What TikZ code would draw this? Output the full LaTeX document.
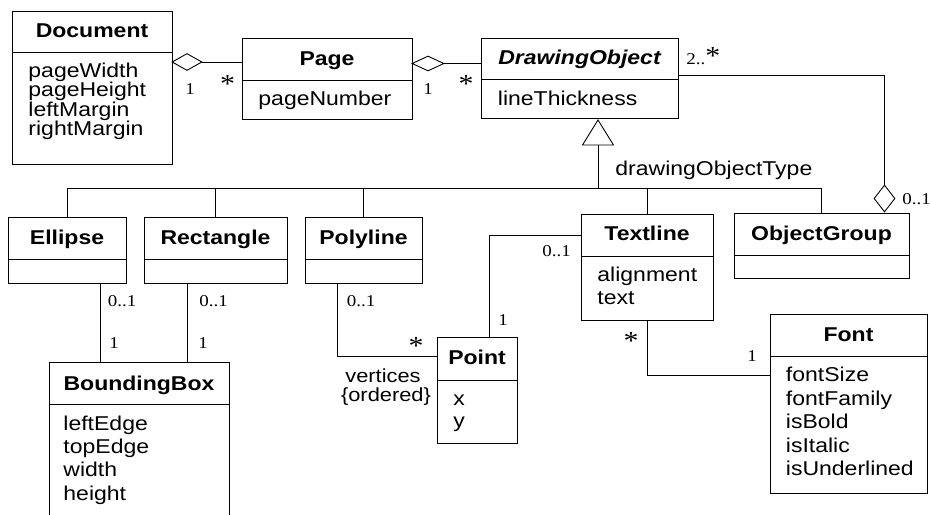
\documentclass[tikz,border=0pt]{standalone}
\usepackage{fontspec}
\setmainfont{Liberation Sans}[FakeStretch=1.15]
\newfontfamily\multfont{Liberation Serif}[FakeStretch=1.15]
\usetikzlibrary{shapes.geometric}
\newcommand\umlbox[6]{%
  \node[cls, minimum width={(#4)-(#2)}, minimum height={(#5)-(#3)}] (#1) at ({((#2)+(#4))/2},{((#3)+(#5))/2}) {};
  \draw (#2,#6) -- (#4,#6);}
\begin{document}
\begin{tikzpicture}[x=1pt,y=-1pt, line width=0.9pt,
  cls/.style={draw, rectangle, inner sep=0pt},
  ttl/.style={font=\fontsize{20}{23}\selectfont\bfseries, anchor=base, inner sep=0pt},
  attr/.style={font=\fontsize{20}{23}\selectfont, anchor=base west, inner sep=0pt},
  lbl/.style={font=\fontsize{19}{22}\selectfont, anchor=base, inner sep=0pt},
  mult/.style={font=\multfont\fontsize{16.5}{19}\selectfont, anchor=base west, inner sep=0pt},
  one/.style={font=\multfont\fontsize{16.5}{19}\selectfont, anchor=base, inner sep=0pt},
  star/.style={font=\multfont\fontsize{26}{28}\selectfont, anchor=base, inner sep=0pt},
  agg/.style={draw, shape=diamond, inner sep=0pt, fill=white},
]
\useasboundingbox (0,0) rectangle (931,514);

% class boxes
\umlbox{doc}{12}{11}{172}{164}{52}
\umlbox{page}{242}{38}{412}{119}{80}
\umlbox{dobj}{481}{38}{678}{118}{79}
\umlbox{ell}{8}{217}{126}{283}{259}
\umlbox{rect}{144}{217}{287}{283}{259}
\umlbox{poly}{305}{217}{422}{283}{259}
\umlbox{tline}{581}{214}{713}{320}{256}
\umlbox{ogrp}{734}{213}{909}{278}{255}
\umlbox{bbox}{49}{362}{229}{540}{404}
\umlbox{point}{437}{337}{517}{443}{380}
\umlbox{font}{770}{314}{927}{493}{356}

% titles
\node[ttl] (docT) at (92,37.5) {Document};
\node[ttl] (pageT) at (327,65) {Page};
\node[ttl, font=\fontsize{20}{23}\selectfont\bfseries\itshape] (dobjT) at (579.5,64.5) {DrawingObject};
\node[ttl] (ellT) at (67,244) {Ellipse};
\node[ttl] (rectT) at (215.5,244) {Rectangle};
\node[ttl] (polyT) at (363.5,244) {Polyline};
\node[ttl] (tlineT) at (647,240.5) {Textline};
\node[ttl] (ogrpT) at (821.5,240.5) {ObjectGroup};
\node[ttl] (bboxT) at (139,390) {BoundingBox};
\node[ttl] (pointT) at (477,364) {Point};
\node[ttl] (fontT) at (848.5,341.5) {Font};

% attributes
\node[attr] (a1) at (28,77) {pageWidth};
\node[attr] (a2) at (28,96.5) {pageHeight};
\node[attr] (a3) at (28,116) {leftMargin};
\node[attr] (a4) at (28,135.5) {rightMargin};
\node[attr] (a5) at (258,105) {pageNumber};
\node[attr] (a6) at (497.5,105) {lineThickness};
\node[attr] (a7) at (597,281.5) {alignment};
\node[attr] (a8) at (597,304) {text};
\node[attr] (a9) at (453,405) {x};
\node[attr] (a10) at (453,427) {y};
\node[attr] (a11) at (785.5,381.5) {fontSize};
\node[attr] (a12) at (785.5,405) {fontFamily};
\node[attr] (a13) at (785.5,428.5) {isBold};
\node[attr] (a14) at (785.5,452) {isItalic};
\node[attr] (a15) at (785.5,475.5) {isUnderlined};
\node[attr] (a16) at (63,430) {leftEdge};
\node[attr] (a17) at (63,453) {topEdge};
\node[attr] (a18) at (63,476.5) {width};
\node[attr] (a19) at (63,500) {height};

% aggregations
\node[agg, minimum width=30, minimum height=17] (ag1) at (187,62) {};
\node[agg, minimum width=32, minimum height=15] (ag2) at (428,63.5) {};
\node[agg, minimum width=21, minimum height=27] (ag3) at (884.5,198.5) {};
\draw (ag1.east) -- (ag1.east -| page.west);
\draw (ag2.east) -- (ag2.east -| dobj.west);
\coordinate (k1) at (884.5,75);
\draw (dobj.east |- k1) -- (k1) -- (ag3.north);

% generalization
\coordinate (apex) at (598,120);
\coordinate (tb) at (598,145);
\coordinate (bar) at (598,188);
\draw (apex) -- ++(-15.5,25) -- ++(31,0) -- cycle;
\draw (tb) -- (bar);
\draw (ell.north |- bar) -- (ogrp.north |- bar);
\foreach \n in {ell,rect,poly,tline,ogrp} \draw (\n.north |- bar) -- (\n.north);
\node[attr] (gl) at (615,175) {drawingObjectType};

% associations
\draw (ell.south -| 100,0) -- (bbox.north -| 100,0);
\draw (rect.south -| 187,0) -- (bbox.north -| 187,0);
\draw (poly.south -| 337,0) |- (point.west |- 0,356);
\draw (point.north -| 489,0) |- (tline.west |- 0,235);
\draw (tline.south) |- (font.west |- 0,375);

% multiplicities
\node[one] (m1) at (190,94) {1};
\node[star] (m2) at (227.5,92) {*};
\node[one] (m3) at (428,94) {1};
\node[star] (m4) at (466,92) {*};
\node[mult] (m5) at (686,64) {2..{\fontsize{26}{28}\selectfont *}};
\node[mult] (m6) at (902,204.5) {0..1};
\node[mult] (m7) at (107.5,306) {0..1};
\node[mult] (m8) at (199,306) {0..1};
\node[mult] (m9) at (346.5,306) {0..1};
\node[one] (m10) at (114,348) {1};
\node[one] (m11) at (203,348) {1};
\node[star] (m12) at (416,354) {*};
\node[mult] (m13) at (542,256) {0..1};
\node[one] (m14) at (503,325) {1};
\node[star] (m15) at (631,349) {*};
\node[one] (m16) at (752,361) {1};
\node[lbl] (v1) at (383,382) {vertices};
\node[lbl] (v2) at (386,401.5) {\{ordered\}};
\end{tikzpicture}
\end{document}
